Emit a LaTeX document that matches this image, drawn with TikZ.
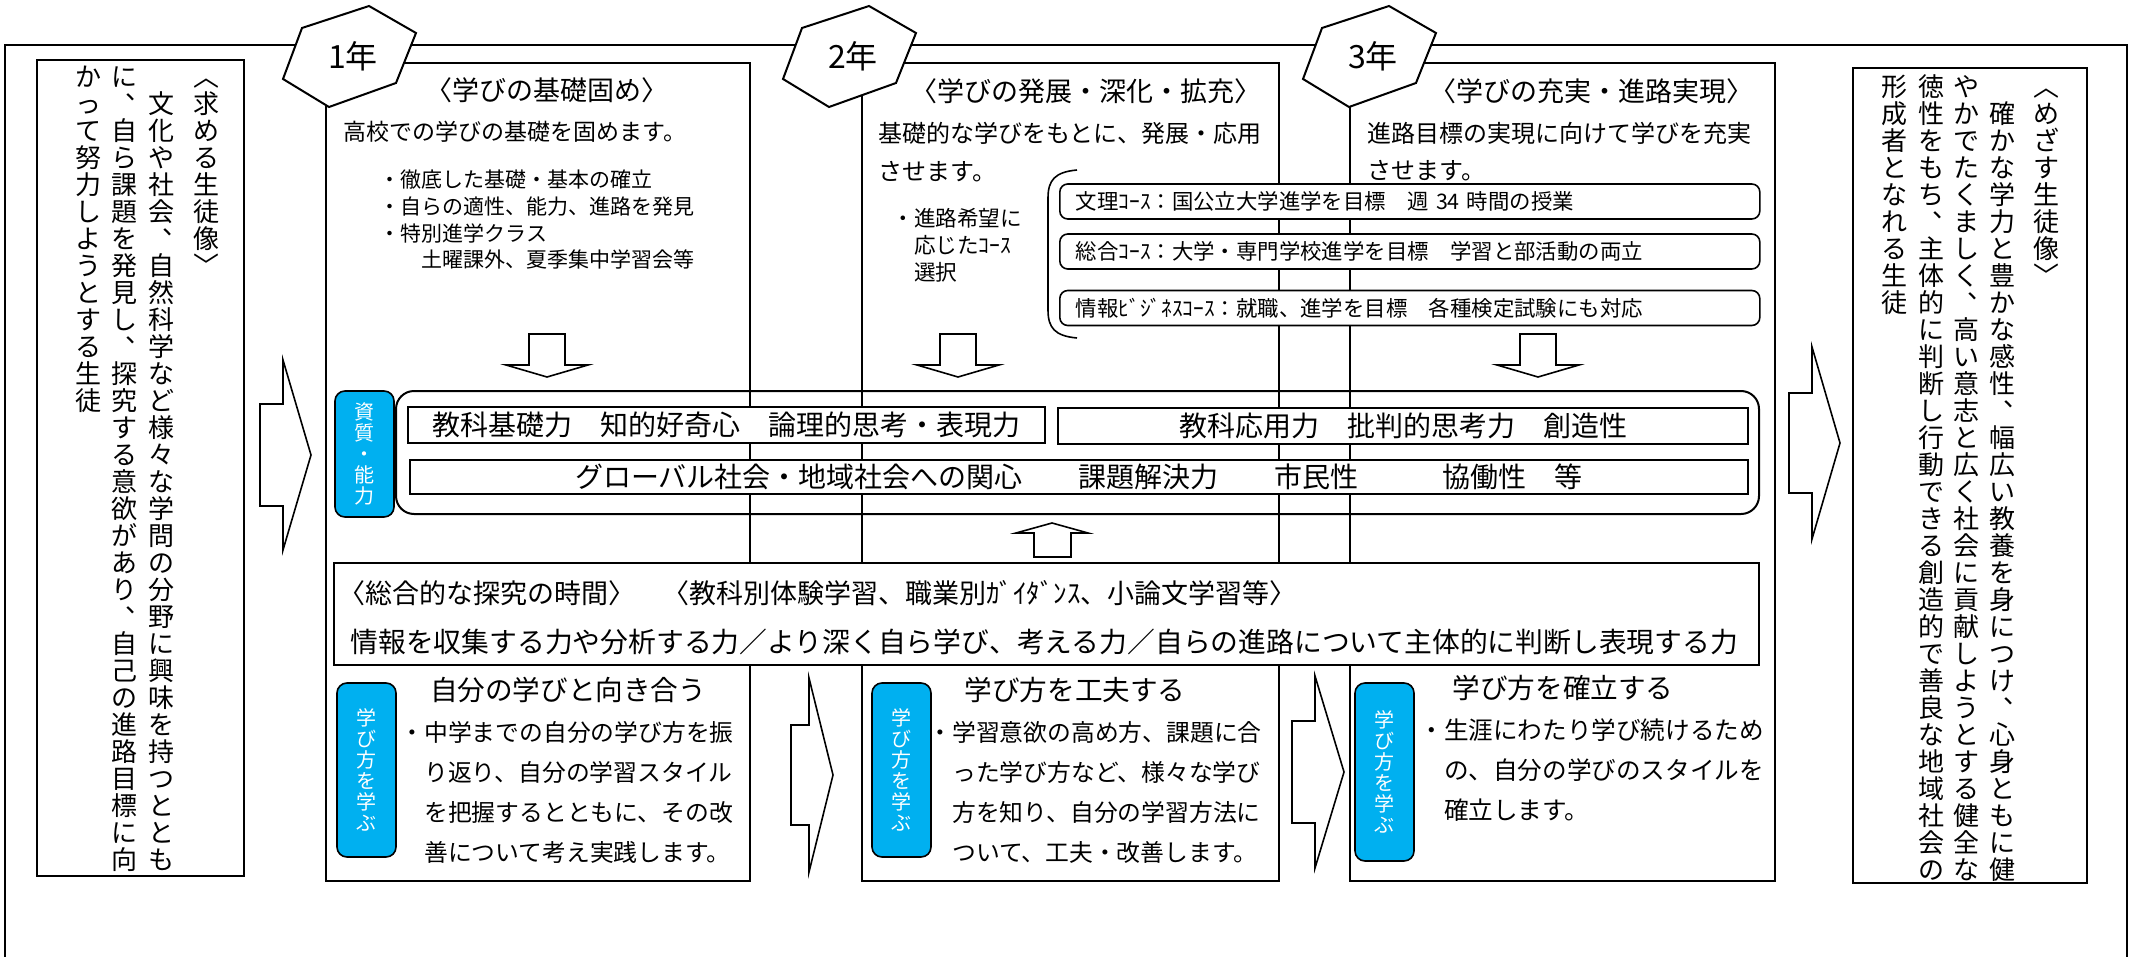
\documentclass[tikz,border=0pt]{standalone}
\usepackage{fontspec}
\setmainfont{Noto Sans CJK JP}
\definecolor{skyblue}{RGB}{0,176,240}
\makeatletter
\newlength\tcell
\def\tten{、}
\newcommand\tatechar{\hbox to\tcell{\vrule height.88\tcell depth.12\tcell width0pt
  \ifx\tch\tten\hskip.55\tcell\raise.5\tcell\rlap{\tch}\hss\else\hss\tch\hss\fi}}
\newcommand\tatecol[1]{\vtop{\offinterlineskip\@tfor\tch:=#1\do{\tatechar}}}
\makeatother

\begin{document}
\begin{tikzpicture}[x=0.5pt,y=-0.5pt,
  every node/.style={inner sep=0pt},
  fsz/.style={font=\fontsize{#1}{#1}\selectfont},
  box/.style={draw,line width=1pt},
  wbox/.style={draw,line width=0.8pt,fill=white},
  blockarrow/.style={draw,line width=0.8pt,fill=white,line join=miter},
  bluetag/.style={draw,line width=0.8pt,fill=skyblue,text=white,rounded corners=5pt,minimum width=29.5pt,fsz=10},
  coursebox/.style={wbox,rounded corners=4pt,anchor=west,minimum height=17.5pt,text width=334pt,inner xsep=8pt,align=left,fsz=10.7}]
  \useasboundingbox (0,0) rectangle (2134,957);
  \def\ctop{63}   % top of the year columns
  \def\cbot{881}  % bottom of the year columns
  % outer frame and year columns
  \draw[line width=1.3pt] (5,962) -- (5,45) -- (2127,45) -- (2127,962);
  \foreach \l/\r in {326/750,862/1279,1350/1775} { \draw[box] (\l,\ctop) rectangle (\r,\cbot); }
  % student profiles, written vertically
  \draw[box] (37,60) rectangle (244,876);
  \node[anchor=north east,fsz=13] (want) at (220.5,62) {\setlength\tcell{13.5pt}\hbox{%
    \tatecol{かって努力しようとする生徒}\hskip4.5pt
    \tatecol{に、自ら課題を発見し、探究する意欲があり、自己の進路目標に向}\hskip5pt
    \tatecol{　文化や社会、自然科学など様々な学問の分野に興味を持つととも}\hskip9pt
    \tatecol{︿求める生徒像﹀}}};
  \draw[box] (1853,68) rectangle (2087,883);
  \node[anchor=north east,fsz=13] (aim) at (2060.5,72) {\setlength\tcell{13.5pt}\hbox{%
    \tatecol{形成者となれる生徒}\hskip5pt
    \tatecol{徳性をもち、主体的に判断し行動できる創造的で善良な地域社会の}\hskip4pt
    \tatecol{やかでたくましく、高い意志と広く社会に貢献しようとする健全な}\hskip4.5pt
    \tatecol{　確かな学力と豊かな感性、幅広い教養を身につけ、心身ともに健}\hskip8.5pt
    \tatecol{︿めざす生徒像﹀}}};
  % year tags
  \foreach \i/\cx in {1/349,2/849,3/1369} {
    \draw[box,fill=white] (\cx+20,6) -- (\cx+67,33) -- (\cx+47,83) -- (\cx-20,107) -- (\cx-66,79) -- (\cx-47,28) -- cycle;
    \node[fsz=16] (yr\i) at (\cx+4,56) {\i 年};
  }
  % upper part of the columns
  \node[fsz=13.5] (aimA) at (547,90) {〈学びの基礎固め〉};
  \node[fsz=13.5] (aimB) at (1086,91) {〈学びの発展・深化・拡充〉};
  \node[fsz=13.5] (aimC) at (1591,91) {〈学びの充実・進路実現〉};
  \node[anchor=west,fsz=11.5] (txtA) at (343,132) {高校での学びの基礎を固めます。};
  \node[anchor=west,fsz=12] (txtB1) at (878,133) {基礎的な学びをもとに、発展・応用};
  \node[anchor=west,fsz=12] (txtB2) at (878,172) {させます。};
  \node[anchor=west,fsz=12] (txtC1) at (1367,133) {進路目標の実現に向けて学びを充実};
  \node[anchor=west,fsz=12] (txtC2) at (1367,171) {させます。};
  \foreach \t [count=\k] in {・徹底した基礎・基本の確立,・自らの適性、能力、進路を発見,・特別進学クラス,　　土曜課外、夏季集中学習会等}
    { \node[anchor=west,fsz=10.5] (ptA\k) at (379,{180+26.5*(\k-1)}) {\t}; }
  \foreach \t [count=\k] in {・進路希望に,　応じたｺｰｽ,　選択}
    { \node[anchor=west,fsz=10.8] (ptB\k) at (892,{218+27*(\k-1)}) {\t}; }
  % courses
  \draw[line width=0.8pt] (1077,170) .. controls (1055,172) and (1048,180) .. (1048,198) -- (1048,310) .. controls (1048,328) and (1055,336) .. (1077,338);
  \node[coursebox] (bunri) at (1059,201.5) {文理ｺｰｽ：国公立大学進学を目標　週 34 時間の授業};
  \node[coursebox] (sogoc) at (1059,251.5) {総合ｺｰｽ：大学・専門学校進学を目標　学習と部活動の両立};
  \node[coursebox] (joho) at (1059,308) {情報ﾋﾞｼﾞﾈｽｺｰｽ：就職、進学を目標　各種検定試験にも対応};
  \foreach \ax in {547,958,1538} {
    \draw[blockarrow] (\ax-18,334) -- (\ax+18,334) -- (\ax+18,365) -- (\ax+41,365) -- (\ax,377) -- (\ax-41,365) -- (\ax-18,365) -- cycle;
  }
  % qualities and abilities
  \node[box,rounded corners=9pt,minimum width=681.5pt,minimum height=61.5pt] (ability) at (1077.5,452.5) {};
  \node[bluetag,minimum height=63pt] (abtag) at (364.5,454) {\setlength\tcell{10.5pt}\tatecol{資質・能力}};
  \node[wbox,fsz=14,minimum width=318.5pt,minimum height=18pt] (kiso) at (726.5,425) {教科基礎力　知的好奇心　論理的思考・表現力};
  \node[wbox,fsz=14,minimum width=345pt,minimum height=18pt] (oyo) at (1403,426) {教科応用力　批判的思考力　創造性};
  \node[wbox,fsz=14,minimum width=669pt,minimum height=17pt] (kanshin) at (1079,477) {グローバル社会・地域社会への関心　　課題解決力　　市民性　　　協働性　等};
  \draw[blockarrow] (1034,557) -- (1034,533) -- (1016,533) -- (1052,523) -- (1088,533) -- (1071,533) -- (1071,557) -- cycle;
  % integrated inquiry
  \node[wbox,line width=1pt,minimum width=712.5pt,minimum height=51pt] (sogo) at (1046.5,614) {};
  \node[anchor=west,fsz=13.5] (sogoA) at (338,593) {〈総合的な探究の時間〉　〈教科別体験学習、職業別ｶﾞｲﾀﾞﾝｽ、小論文学習等〉};
  \node[anchor=west,fsz=13.9] (sogoB) at (350,642) {情報を収集する力や分析する力／より深く自ら学び、考える力／自らの進路について主体的に判断し表現する力};
  % learning how to learn
  \node[fsz=13.8] (wayA) at (568,690) {自分の学びと向き合う};
  \node[fsz=13.8] (wayB) at (1075,690) {学び方を工夫する};
  \node[fsz=13.8] (wayC) at (1563,688) {学び方を確立する};
  \foreach \i/\cx/\cy/\h in {1/366.5/770/87,2/901.5/770/87,3/1384.5/772/89}
    { \node[bluetag,minimum height=\h pt] (tag\i) at (\cx,\cy) {\setlength\tcell{10.5pt}\tatecol{学び方を学ぶ}}; }
  \foreach \t [count=\k] in {・中学までの自分の学び方を振,　り返り、自分の学習スタイル,　を把握するとともに、その改,　善について考え実践します。}
    { \node[anchor=west,fsz=11.9] (lwA\k) at (400,{732+40*(\k-1)}) {\t}; }
  \foreach \t [count=\k] in {・学習意欲の高め方、課題に合,　った学び方など、様々な学び,　方を知り、自分の学習方法に,　ついて、工夫・改善します。}
    { \node[anchor=west,fsz=11.9] (lwB\k) at (928,{732+40*(\k-1)}) {\t}; }
  \foreach \t [count=\k] in {・生涯にわたり学び続けるため,　の、自分の学びのスタイルを,　確立します。}
    { \node[anchor=west,fsz=12.3] (lwC\k) at (1419,{730+40*(\k-1)}) {\t}; }
  % block arrows to the right
  \foreach \xl/\xb/\xt/\yc/\hs/\hh in {260/283/311/455/51/95,1789/1812/1840/443/50/96,791/809/833/775/50/97,1292/1315/1344/772/51/96}
    { \draw[blockarrow] (\xl,\yc-\hs) -- (\xb,\yc-\hs) -- (\xb,\yc-\hh) -- (\xt,\yc) -- (\xb,\yc+\hh) -- (\xb,\yc+\hs) -- (\xl,\yc+\hs) -- cycle; }
\end{tikzpicture}
\end{document}
